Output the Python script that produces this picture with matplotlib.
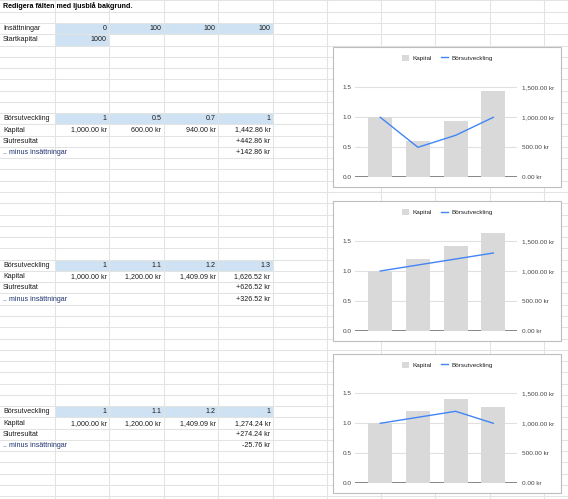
import matplotlib
matplotlib.use('Agg')
import matplotlib.pyplot as plt
from matplotlib.patches import Rectangle
from matplotlib.ticker import FuncFormatter

plt.rcParams['font.family'] = ['Liberation Sans', 'DejaVu Sans']

# spreadsheet values
title = 'Redigera fälten med ljusblå bakgrund.'
deposits = [0, 100, 100, 100]
start_capital = 1000

dev_a = [1, 0.5, 0.7, 1]
kap_a = [1000.00, 600.00, 940.00, 1442.86]
dev_b = [1, 1.1, 1.2, 1.3]
kap_b = [1000.00, 1200.00, 1409.09, 1626.52]
dev_c = [1, 1.1, 1.2, 1]
kap_c = [1000.00, 1200.00, 1409.09, 1274.24]

result = [442.86, 626.52, 274.24]
net_result = [142.86, 326.52, -25.76]

left_ticks = [0, 0.5, 1.0, 1.5]
right_ticks = [0, 500, 1000, 1500]

W, H = 568, 499
fig = plt.figure(figsize=(W / 100, H / 100), dpi=100)
bg = fig.add_axes([0, 0, 1, 1])
bg.set_xlim(0, W)
bg.set_ylim(H, 0)
bg.axis('off')

col_edges = [55, 109.3, 163.8, 218.4, 272.9, 327.2, 381.3, 435.4, 489.5, 543.5]
row_h = 11.27
grid_col = '#e2e3e3'
blue = '#cfe2f3'
fs = 5.1      # sheet text
cfs = 4.6     # chart text


def row_line(n):
    return 11.7 + row_h * n


def row_mid(r):
    return row_line(r - 1) - row_h / 2


def fill_cells(r, c0, c1):
    x0 = col_edges[c0 - 1]
    x1 = col_edges[c1]
    bg.add_patch(Rectangle((x0, row_line(r - 2)), x1 - x0, row_h,
                           facecolor=blue, edgecolor='none', zorder=1))


# blue input cells
fill_cells(3, 1, 4)
fill_cells(4, 1, 1)
for r in [11, 24, 37]:
    fill_cells(r, 1, 4)

# grid
for x in col_edges:
    bg.plot([x, x], [0, H], color=grid_col, lw=0.75, zorder=2)
for n in range(-1, 44):
    y = row_line(n)
    bg.plot([0, W], [y, y], color=grid_col, lw=0.75, zorder=2)

txt = '#1a1a1a'


def label(r, s, color=txt, bold=False, size=fs):
    bg.text(3, row_mid(r), s, fontsize=size, color=color, va='center', ha='left',
            fontweight='bold' if bold else 'normal', zorder=3)


def value(r, c, s):
    bg.text(col_edges[c] - 2.5, row_mid(r), s, fontsize=fs, color=txt,
            va='center', ha='right', zorder=3)


label(1, title, color='#000000', bold=True, size=5.1)
label(3, 'Insättningar')
for i, d in enumerate(deposits):
    value(3, i + 1, f'{d:g}')
label(4, 'Startkapital')
value(4, 1, f'{start_capital}')

blocks = [(11, dev_a, kap_a), (24, dev_b, kap_b), (37, dev_c, kap_c)]
for k, (r, dev, kap) in enumerate(blocks):
    label(r, 'Börsutveckling')
    label(r + 1, 'Kapital')
    label(r + 2, 'Slutresultat')
    label(r + 3, '.. minus insättningar', color='#1f3370')
    for i in range(4):
        value(r, i + 1, f'{dev[i]:g}')
        value(r + 1, i + 1, f'{kap[i]:,.2f} kr')
    value(r + 2, 4, f'{result[k]:+,.2f} kr')
    value(r + 3, 4, f'{net_result[k]:+,.2f} kr')

# charts
boxes = [(333, 46.5, 561, 187.3), (333, 201, 561, 341), (333, 353.7, 561, 493.3)]
bar_col = '#d9d9d9'
line_col = '#4285f4'
tick_col = '#444444'
ax_left, ax_right = 355, 516.7
ymax = 1.75
px_per_unit = 60

for (x0, y0, x1, y1), (r, dev, kap) in zip(boxes, blocks):
    bg.add_patch(Rectangle((x0 + 0.8, y0 + 0.8), x1 - x0, y1 - y0, facecolor='#e6e6e6',
                           edgecolor='none', zorder=4))
    bg.add_patch(Rectangle((x0, y0), x1 - x0, y1 - y0, facecolor='white',
                           edgecolor='#bdbdbd', lw=0.8, zorder=5))

    base = y1 - 10
    top = base - ymax * px_per_unit
    ax = fig.add_axes([ax_left / W, (H - base) / H, (ax_right - ax_left) / W,
                       (base - top) / H])
    ax.set_zorder(10)
    ax.patch.set_visible(False)
    xs = list(range(len(kap)))
    bars = ax.bar(xs, kap, width=0.64, color=bar_col, zorder=3, label='Kapital')
    ax.set_ylim(0, ymax * 1000)
    ax.set_xlim(-0.67, 3.62)
    for t in right_ticks[1:]:
        ax.axhline(t, color='#e0e0e0', lw=0.8, zorder=1)
    ax.axhline(0, color='#666666', lw=1.1, zorder=2)
    ax.set_yticks(right_ticks)
    ax.yaxis.set_major_formatter(FuncFormatter(lambda v, p: f'{v:,.2f} kr'))
    ax.set_xticks([])
    for s in ax.spines.values():
        s.set_visible(False)

    ax2 = ax.twinx()
    ax2.set_zorder(11)
    ax2.patch.set_visible(False)
    line, = ax2.plot(xs, dev, color=line_col, lw=1.0, label='Börsutveckling')
    ax2.set_ylim(0, ymax)
    ax2.set_yticks(left_ticks)
    ax2.yaxis.set_major_formatter(FuncFormatter(lambda v, p: f'{v:.1f}'))
    ax2.yaxis.tick_left()
    ax2.tick_params(axis='y', length=0, pad=2.6, labelsize=cfs, labelcolor=tick_col)
    for s in ax2.spines.values():
        s.set_visible(False)

    # twinx moves the original axis to the left, so put it back on the right
    ax.yaxis.tick_right()
    ax.tick_params(axis='y', length=0, pad=4.0, labelsize=cfs, labelcolor=tick_col)

    leg_y = y0 + 11.2
    leg = fig.legend([bars, line], ['Kapital', 'Börsutveckling'], ncol=2,
                     loc='center', bbox_to_anchor=(447.5 / W, 1 - leg_y / H),
                     frameon=False, fontsize=cfs, handlelength=1.1,
                     handleheight=1.1, handletextpad=0.6, columnspacing=1.4,
                     labelcolor='#222222')
    leg.set_zorder(12)

fig.savefig('out.png', dpi=100)
